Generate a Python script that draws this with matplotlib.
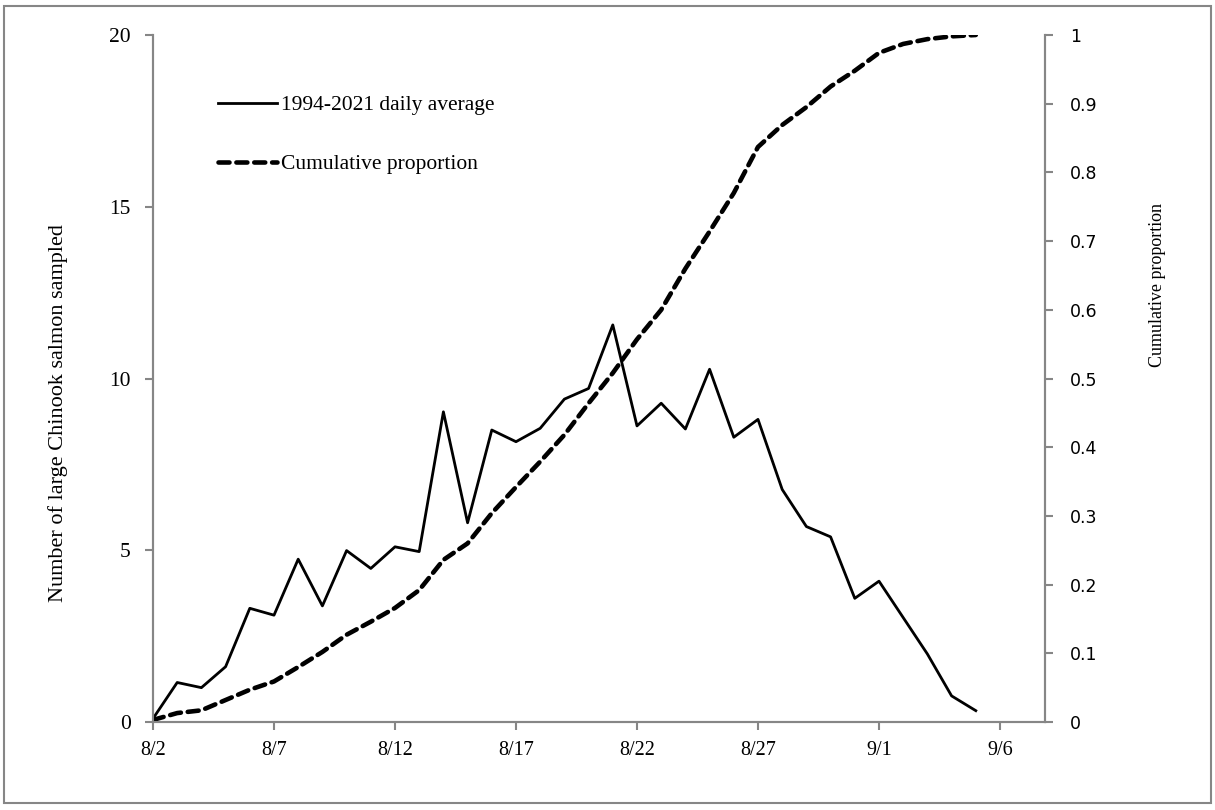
import numpy as np
import matplotlib
matplotlib.use("Agg")
import matplotlib.pyplot as plt
from matplotlib.patches import Rectangle

# days since 8/2
days = np.arange(35)
daily_avg = [0.1, 1.15, 1.0, 1.61, 3.31, 3.11, 4.74, 3.38, 4.99, 4.47,
             5.10, 4.96, 9.03, 5.80, 8.50, 8.16, 8.55, 9.40, 9.71, 11.56,
             8.62, 9.28, 8.53, 10.27, 8.29, 8.81, 6.77, 5.69, 5.39, 3.60,
             4.10, 3.04, 1.98, 0.76, 0.33]
cum_prop = [0.003, 0.013, 0.017, 0.032, 0.047, 0.059, 0.080, 0.102, 0.127, 0.146,
            0.166, 0.192, 0.236, 0.260, 0.304, 0.342, 0.379, 0.418, 0.464, 0.508,
            0.557, 0.600, 0.660, 0.714, 0.770, 0.837, 0.869, 0.895, 0.925, 0.948,
            0.974, 0.987, 0.994, 0.998, 1.0]
tick_days = [0, 5, 10, 15, 20, 25, 30, 35]
tick_labels = ["8/2", "8/7", "8/12", "8/17", "8/22", "8/27", "9/1", "9/6"]

serif = "Liberation Serif"
gray = "#868686"

fig = plt.figure(figsize=(12.15, 8.1), dpi=100)
fig.patches.append(Rectangle((0.003, 0.009), 0.994, 0.983, transform=fig.transFigure,
                             fill=False, edgecolor=gray, linewidth=1.5))

ax = fig.add_axes([153 / 1215, (810 - 722) / 810, (1045 - 153) / 1215, (722 - 35) / 810])
ax2 = ax.twinx()

l1, = ax.plot(days, daily_avg, color="black", linewidth=2.0, label="1994-2021 daily average")
l2, = ax2.plot(days, cum_prop, color="black", linewidth=3.3, linestyle=(0, (2.4, 1.5)),
               dash_capstyle="round", label="Cumulative proportion")

ax.set_xlim(0, 36.86)
ax.set_ylim(0, 20)
ax2.set_ylim(0, 1)

ax.set_xticks(tick_days)
ax.set_xticklabels(tick_labels, fontfamily=serif, fontsize=14.5)
ax.set_yticks([0, 5, 10, 15, 20])
ax.set_yticklabels(["0", "5", "10", "15", "20"], fontfamily=serif, fontsize=15.5)
ax2.set_yticks(np.round(np.arange(0, 1.01, 0.1), 1))
ax2.set_yticklabels(["0", "0.1", "0.2", "0.3", "0.4", "0.5", "0.6", "0.7", "0.8", "0.9", "1"],
                    fontfamily="DejaVu Sans", fontsize=12.5)

for a in (ax, ax2):
    for s in a.spines.values():
        s.set_color(gray)
        s.set_linewidth(1.5)
    a.spines["top"].set_visible(False)
    a.tick_params(colors=gray, width=1.5, length=6, labelcolor="black", pad=10)
ax.tick_params(axis="x", pad=8)
ax2.tick_params(axis="y", pad=12)

ax.set_ylabel("Number of large Chinook salmon sampled", fontfamily=serif, fontsize=16)
ax.yaxis.set_label_coords(-0.095, 0.45)
ax2.set_ylabel("Cumulative proportion", fontfamily=serif, fontsize=13)
ax2.yaxis.set_label_coords(1.117, 0.636)

ax.legend(handles=[l1, l2], loc="upper left", bbox_to_anchor=(199 / 1215, 1 - 76 / 810),
          bbox_transform=fig.transFigure, frameon=False, handlelength=2.7,
          handletextpad=0.2, labelspacing=1.8, prop={"family": serif, "size": 15.5})

fig.savefig("out.png", dpi=100)
